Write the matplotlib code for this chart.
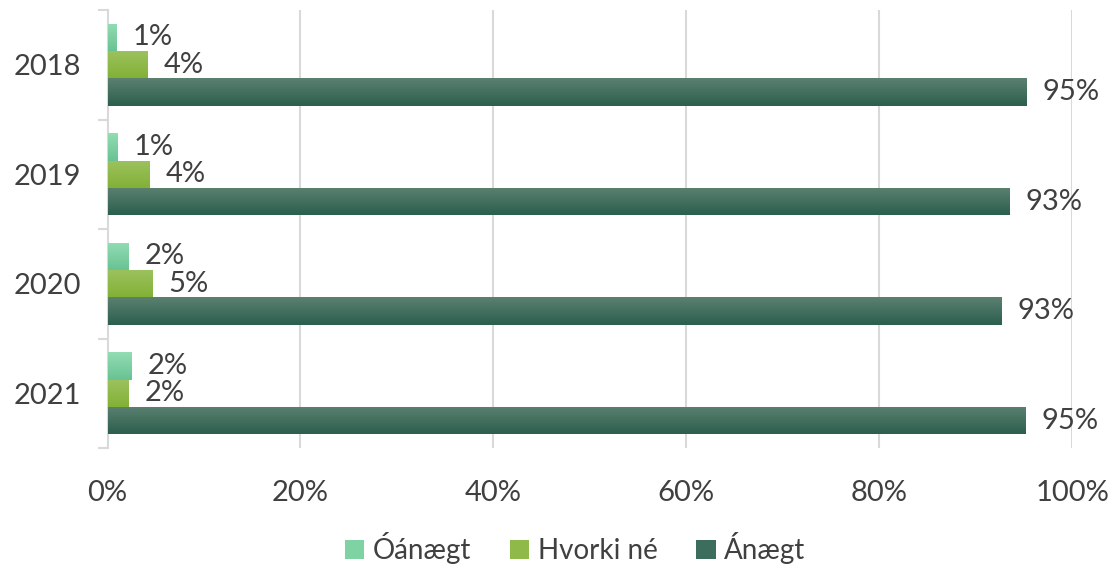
import numpy as np
import matplotlib
matplotlib.use("Agg")
import matplotlib.pyplot as plt
from matplotlib.colors import LinearSegmentedColormap
from matplotlib.patches import Patch

plt.rcParams['font.family'] = ['Lato', 'DejaVu Sans']

years = ["2018", "2019", "2020", "2021"]
series_names = ["Óánægt", "Hvorki né", "Ánægt"]
oanaegt = [0.9, 1.0, 2.1, 2.4]
hvorki = [4.1, 4.3, 4.6, 2.1]
anaegt = [95.2, 93.4, 92.6, 95.1]
xticks = [0, 20, 40, 60, 80, 100]

grad_top = ["#93ddb3", "#9dc25f", "#5b8070"]
grad_bot = ["#68c293", "#82b136", "#2c5f4e"]
solid = ["#7fd2a4", "#8fb949", "#3d6d5c"]
text_color = "#404040"
grid_color = "#d9d9d9"

fig = plt.figure(figsize=(11.15, 5.66), dpi=100)
ax = fig.add_axes([107.5 / 1115, 1 - 448 / 566, (1072.3 - 107.5) / 1115, (448 - 10) / 566])

y = np.arange(len(years))
h = 0.25
offsets = [-h, 0, h]
data = [oanaegt, hvorki, anaegt]

for vals, off, ct, cb, cs in zip(data, offsets, grad_top, grad_bot, solid):
    bars = ax.barh(y + off, vals, height=h, color=cs, zorder=2, linewidth=0)
    cmap = LinearSegmentedColormap.from_list("g", [ct, cb])
    grad = np.linspace(0, 1, 64).reshape(-1, 1)
    for b, v in zip(bars, vals):
        x0, y0 = b.get_x(), b.get_y()
        im = ax.imshow(grad, cmap=cmap, aspect="auto",
                       extent=[x0, x0 + b.get_width(), y0 + b.get_height(), y0],
                       zorder=3, interpolation="bilinear")
        im.set_clip_path(b)
        ax.annotate(f"{round(v):d}%", xy=(v, b.get_y() + b.get_height() / 2),
                    xytext=(12, 0), textcoords="offset points",
                    va="center", ha="left", fontsize=21, color=text_color, zorder=4)

ax.set_xlim(0, 100)
ax.set_ylim(len(years) - 0.5, -0.5)

ax.set_xticks(xticks)
ax.set_xticklabels([f"{t}%" for t in xticks])
ax.tick_params(axis="x", length=0, pad=23, labelsize=21, labelcolor=text_color)
ax.set_yticks(y)
ax.set_yticklabels(years)
ax.tick_params(axis="y", which="major", length=0, pad=19, labelsize=21, labelcolor=text_color)
ax.set_yticks(np.arange(-0.5, len(years)), minor=True)
ax.tick_params(axis="y", which="minor", length=7, width=1.5, color=grid_color)

for s in ["top", "right", "bottom"]:
    ax.spines[s].set_visible(False)
ax.spines["left"].set_color(grid_color)
ax.spines["left"].set_linewidth(1.5)

for t in xticks[1:]:
    ax.axvline(t, color=grid_color, linewidth=1.5, zorder=1)

handles = [Patch(facecolor=c, edgecolor="none") for c in solid]
fig.legend(handles, series_names, loc="center", bbox_to_anchor=(575 / 1115, 1 - 548 / 566),
           ncol=3, frameon=False, fontsize=20, labelcolor=text_color,
           handlelength=0.7, handleheight=0.7, handletextpad=0.3, columnspacing=1.4)

fig.savefig("out.png", dpi=100)
